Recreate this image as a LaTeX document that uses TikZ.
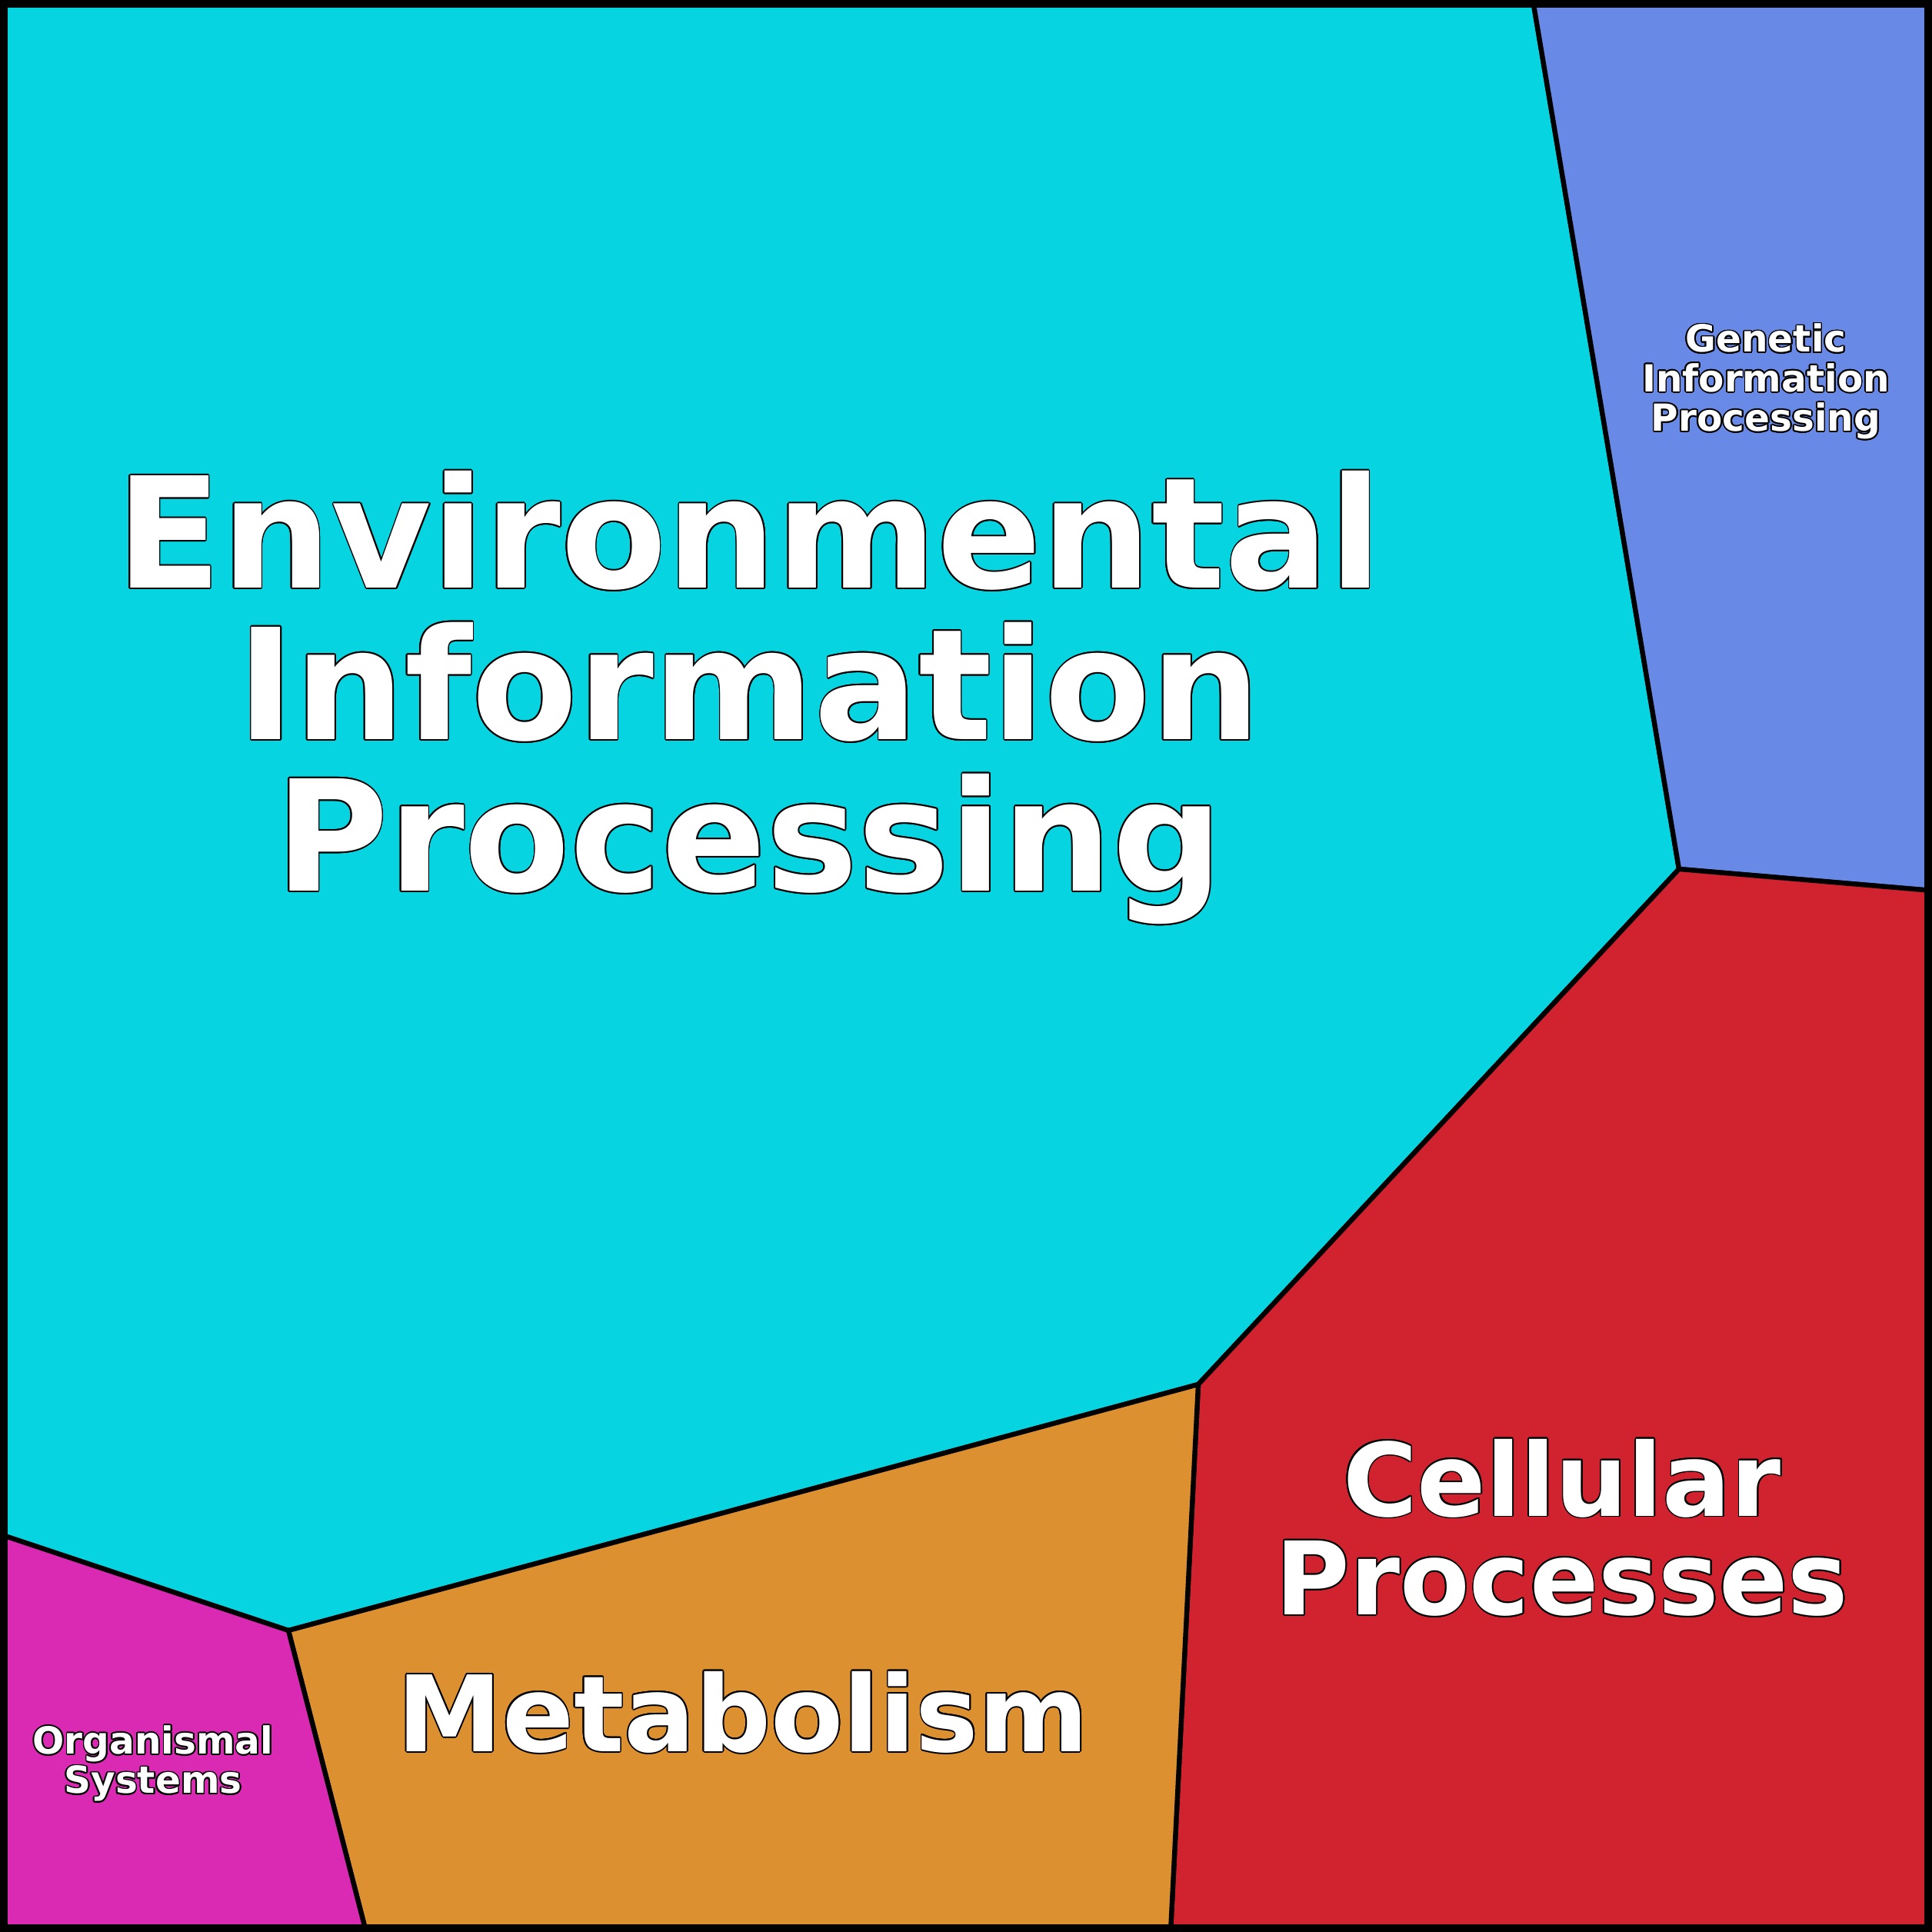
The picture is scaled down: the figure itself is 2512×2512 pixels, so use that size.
\documentclass[tikz,border=0pt]{standalone}
\usepackage{fontspec}
\setmainfont{DejaVu Sans}
\usepackage{contour}
\contourlength{0.5pt}
\contournumber{16}
\usetikzlibrary{positioning}
\definecolor{envcol}{HTML}{06D4E0}
\definecolor{gencol}{HTML}{6889E6}
\definecolor{celcol}{HTML}{D12230}
\definecolor{metcol}{HTML}{DC9030}
\definecolor{orgcol}{HTML}{DA2AB3}
\newcommand{\rimtext}[1]{\contour{black}{#1}}
\tikzset{
        x=0.01cm, y=0.01cm, % one unit is one pixel of the reference
        cell/.style={draw=black, line width=1.8pt, line join=round}, % sets properties for each region
        label/.style={text=white, align=center, inner sep=0pt}, % region labels
    }

\begin{document}
\begin{tikzpicture}
    \useasboundingbox (0,0) rectangle (2512,2512);
    % corner points of the regions
    \coordinate (tl) at (0,2512);
    \coordinate (tr) at (2512,2512);
    \coordinate (bl) at (0,0);
    \coordinate (br) at (2512,0);
    \coordinate (a) at (1993,2512);
    \coordinate (b) at (2183,1382);
    \coordinate (c) at (2512,1354);
    \coordinate (d) at (1558,712);
    \coordinate (e) at (375,392);
    \coordinate (f) at (0,517);
    \coordinate (g) at (476,0);
    \coordinate (h) at (1522,0);
    % regions
    \filldraw[cell, fill=envcol] (tl) -- (a) -- (b) -- (d) -- (e) -- (f) -- cycle;
    \filldraw[cell, fill=gencol] (a) -- (tr) -- (c) -- (b) -- cycle;
    \filldraw[cell, fill=celcol] (b) -- (c) -- (br) -- (h) -- (d) -- cycle;
    \filldraw[cell, fill=metcol] (e) -- (d) -- (h) -- (g) -- cycle;
    \filldraw[cell, fill=orgcol] (f) -- (e) -- (g) -- (bl) -- cycle;
    \draw[line width=2.8pt] (5,5) rectangle (2507,2507);
    % labels
    \node[label, font=\bfseries\fontsize{57}{56}\selectfont] (env) at (974,1604)
        {\rimtext{Environmental}\\\rimtext{Information}\\\rimtext{Processing}};
    \node[label, font=\bfseries\fontsize{13.8}{14.6}\selectfont] (gen) at (2296,2015)
        {\rimtext{Genetic}\\\rimtext{Information}\\\rimtext{Processing}};
    \node[label, font=\bfseries\fontsize{37.5}{36.5}\selectfont] (cel) at (2031,525)
        {\rimtext{Cellular}\\\rimtext{Processes}};
    \node[label, font=\bfseries\fontsize{39}{38}\selectfont] (met) at (966,285) {\rimtext{Metabolism}};
    \node[label, font=\bfseries\fontsize{13.8}{14.6}\selectfont] (org) at (199,218)
        {\rimtext{Organismal}\\\rimtext{Systems}};
\end{tikzpicture}
\end{document}
